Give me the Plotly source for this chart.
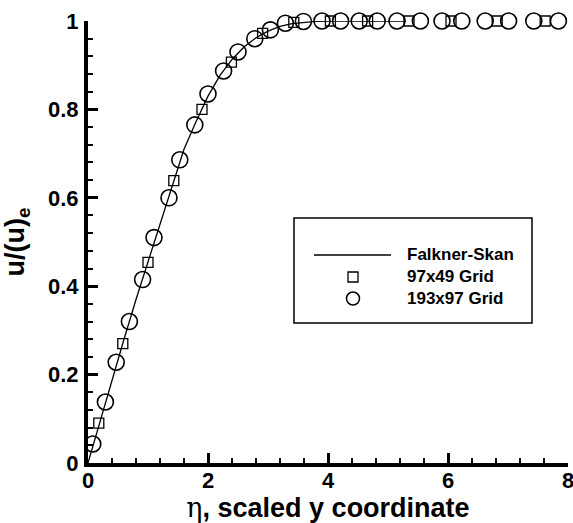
import plotly.graph_objects as go

# Falkner-Skan reference profile
fs_eta = [0.0, 0.2, 0.4, 0.6, 0.8, 1.0, 1.2, 1.4, 1.6, 1.8, 2.0, 2.2, 2.4, 2.6, 2.8,
          3.0, 3.2, 3.4, 3.6, 3.8, 4.0, 4.5, 5.3]
fs_u = [0.0, 0.095, 0.19, 0.28, 0.37, 0.455, 0.545, 0.628, 0.71, 0.772, 0.83, 0.877,
        0.913, 0.941, 0.962, 0.977, 0.988, 0.994, 0.997, 0.999, 1.0, 1.0, 1.0]

# 97x49 grid (squares)
g1_eta = [0.18, 0.58, 1.0, 1.43, 1.90, 2.39, 2.91, 3.43, 4.04, 4.66, 5.35, 6.05, 6.82, 7.62]
g1_u = [0.09, 0.27, 0.454, 0.639, 0.80, 0.907, 0.972, 0.997, 1.0, 1.0, 1.0, 1.0, 1.0, 1.0]

# 193x97 grid (circles)
g2_eta = [0.08, 0.29, 0.47, 0.69, 0.91, 1.10, 1.35, 1.53, 1.78, 2.0, 2.26, 2.50, 2.78,
          3.04, 3.29, 3.59, 3.90, 4.21, 4.52, 4.82, 5.15, 5.54, 5.90, 6.23, 6.62, 7.01,
          7.43, 7.84]
g2_u = [0.043, 0.138, 0.228, 0.32, 0.415, 0.51, 0.60, 0.686, 0.765, 0.835, 0.887, 0.93,
        0.96, 0.98, 0.995, 0.999, 1.0, 1.0, 1.0, 1.0, 1.0, 1.0, 1.0, 1.0, 1.0, 1.0,
        1.0, 1.0]

legend_names = ["Falkner-Skan", "97x49 Grid", "193x97 Grid"]
x_ticks = [0, 2, 4, 6, 8]
y_ticks = [0, 0.2, 0.4, 0.6, 0.8, 1]

W, H = 573, 523
L, R, T, B = 88, 5, 21, 60
PW, PH = W - L - R, H - T - B

def px(x):
    return (x - L) / PW

def py(y):
    return (H - B - y) / PH

FONT = "Liberation Sans"

fig = go.Figure()
fig.add_trace(go.Scatter(x=fs_eta, y=fs_u, mode="lines", name=legend_names[0],
                         line=dict(color="black", width=1.3), cliponaxis=False))
fig.add_trace(go.Scatter(x=g1_eta, y=g1_u, mode="markers", name=legend_names[1],
                         marker=dict(symbol="square-open", size=10, color="black",
                                     line=dict(width=1.3, color="black")),
                         cliponaxis=False))
fig.add_trace(go.Scatter(x=g2_eta, y=g2_u, mode="markers", name=legend_names[2],
                         marker=dict(symbol="circle-open", size=16, color="black",
                                     line=dict(width=1.6, color="black")),
                         cliponaxis=False))

axis_common = dict(showgrid=False, zeroline=False, showline=True, linecolor="black",
                   linewidth=4, ticks="inside", ticklen=10, tickwidth=2.5,
                   tickcolor="black", mirror=False, ticklabeloverflow="allow",
                   automargin=False,
                   tickfont=dict(family=FONT, size=22, color="black", weight="bold"))

fig.update_xaxes(range=[0, 8], tickvals=x_ticks,
                 minor=dict(dtick=0.4, ticklen=5, tickwidth=1.5, ticks="inside",
                            tickcolor="black"),
                 title=dict(text="<span style='font-family:DejaVu Serif;font-weight:normal'>η</span>, scaled y coordinate",
                            font=dict(family=FONT, size=27, color="black", weight="bold"),
                            standoff=6),
                 ticklabelstandoff=-5,
                 **axis_common)
fig.update_yaxes(range=[0, 1], tickvals=y_ticks,
                 minor=dict(dtick=0.04, ticklen=5, tickwidth=1.5, ticks="inside",
                            tickcolor="black"),
                 title=dict(text="u/(u)<sub>e</sub>",
                            font=dict(family=FONT, size=27, color="black", weight="bold"),
                            standoff=18),
                 ticklabelstandoff=1,
                 **axis_common)

# manual legend box
shapes = [
    dict(type="rect", xref="paper", yref="paper", x0=px(294), x1=px(532), y0=py(323), y1=py(218),
         line=dict(color="black", width=1.5), fillcolor="white", layer="above"),
    dict(type="line", xref="paper", yref="paper", x0=px(314), x1=px(391), y0=py(255), y1=py(255),
         line=dict(color="black", width=1.3)),
    dict(type="rect", xref="paper", yref="paper", x0=px(348), x1=px(358), y0=py(282), y1=py(272),
         line=dict(color="black", width=1.3)),
    dict(type="circle", xref="paper", yref="paper", x0=px(346.5), x1=px(359.5), y0=py(305), y1=py(292),
         line=dict(color="black", width=1.5)),
]
annotations = []
for name, yy in zip(legend_names, [254, 276, 298]):
    annotations.append(dict(xref="paper", yref="paper", x=px(405), y=py(yy), text=name,
                            showarrow=False, xanchor="left", yanchor="middle",
                            font=dict(family=FONT, size=17, color="black", weight="bold")))

fig.update_layout(width=W, height=H, margin=dict(l=L, r=R, t=T, b=B),
                  plot_bgcolor="white", paper_bgcolor="white", showlegend=False,
                  shapes=shapes, annotations=annotations)

fig.write_html("out.html")
